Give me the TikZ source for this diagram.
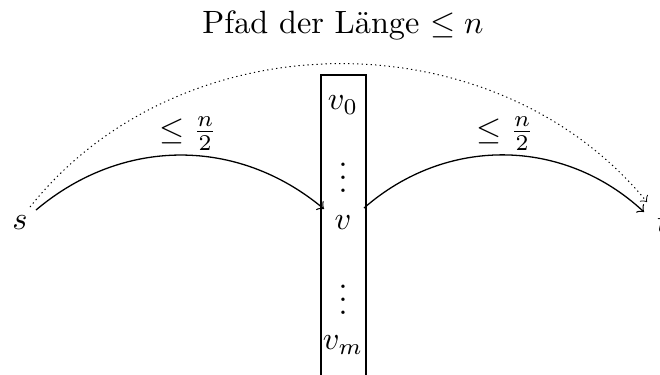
\documentclass[tikz,border=0pt]{standalone}
\begin{document}
\begin{tikzpicture}[x=0.31pt,y=-0.31pt,
  lbl/.style={inner sep=0pt},
  arc/.style={->,line width=0.4pt}]
\useasboundingbox (0,0) rectangle (660,374);
\clip (0,0) rectangle (660,374);
\node[lbl] (s) at (20,223) {$s$};
\node[lbl] (t) at (663,223) {$t$};
\node[lbl] (v0) at (343,105) {$v_0$};
\node[lbl] (d1) at (343,168) {$\vdots$};
\node[lbl] (v) at (343,223) {$v$};
\node[lbl] (d2) at (343,290) {$\vdots$};
\node[lbl] (vm) at (343,345) {$v_m$};
\draw (321,400) -- (321,75) -- (366,75) -- (366,400);
\coordinate (sa) at (36,210);
\coordinate (sb) at (30,207);
\coordinate (vl) at (324,209);
\coordinate (vr) at (364,208);
\coordinate (ta) at (644,212);
\coordinate (tb) at (647,202);
\draw[arc] (sa) to[bend left=40] (vl);
\draw[arc] (vr) to[bend left=42] (ta);
\draw[arc,densely dotted,line width=0.3pt] (sb) to[bend left=51] (tb);
\node[lbl] (l1) at (188,134) {$\leq \frac{n}{2}$};
\node[lbl] (l2) at (505,134) {$\leq \frac{n}{2}$};
\node[lbl] (l3) at (343,25) {Pfad der Länge $\leq n$};
\end{tikzpicture}
\end{document}
